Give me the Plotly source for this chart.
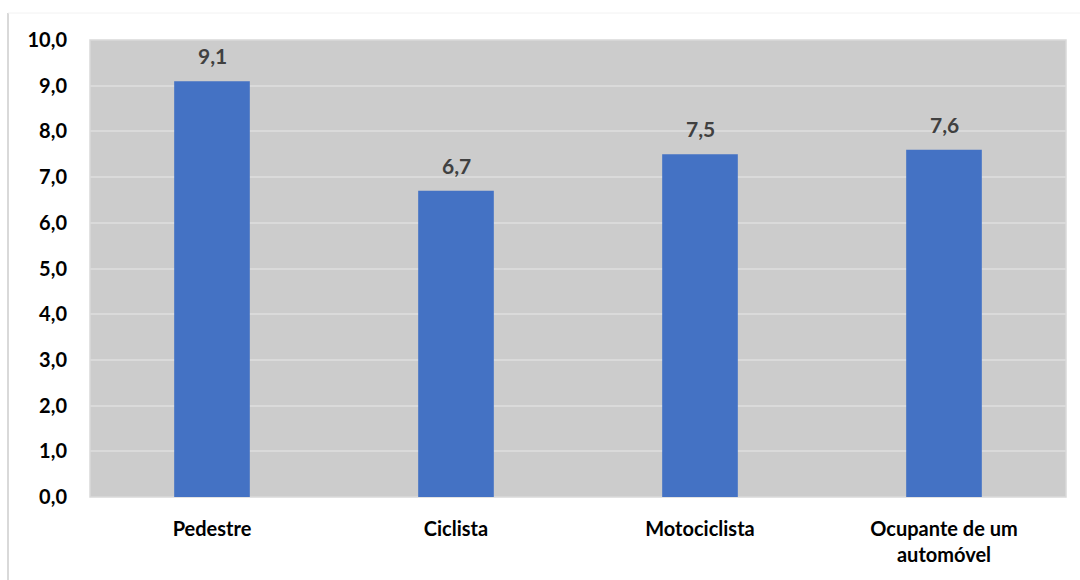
import plotly.graph_objects as go

categories = ["Pedestre", "Ciclista", "Motociclista", "Ocupante de um<br>automóvel"]
values = [9.1, 6.7, 7.5, 7.6]
tick_vals = [0, 1, 2, 3, 4, 5, 6, 7, 8, 9, 10]
tick_text = ["0,0", "1,0", "2,0", "3,0", "4,0", "5,0", "6,0", "7,0", "8,0", "9,0", "10,0"]
value_labels = [f"{v:.1f}".replace(".", ",") for v in values]

FONT = "Lato"

fig = go.Figure()
fig.add_trace(go.Bar(
    x=categories, y=values,
    marker=dict(color="#4472C4", line=dict(width=0)),
    width=0.31,
    hoverinfo="skip",
))

for c, v, t in zip(categories, values, value_labels):
    fig.add_annotation(x=c, y=v, text=f"<b>{t}</b>", showarrow=False,
                       yanchor="bottom", yshift=11,
                       font=dict(family=FONT, size=21, color="#404040"))

# outer chart border (light)
fig.add_shape(type="line", xref="paper", yref="paper",
              x0=(8 - 90) / 976, x1=(8 - 90) / 976,
              y0=1 + (40 - 13) / 457, y1=(497 - 600) / 457,
              line=dict(color="#d9d9d9", width=2), layer="below")
fig.add_shape(type="line", xref="paper", yref="paper",
              x0=(8 - 90) / 976, x1=(1100 - 90) / 976,
              y0=1 + (40 - 13) / 457, y1=1 + (40 - 13) / 457,
              line=dict(color="#f2f2f2", width=1), layer="below")
# plot area border
fig.add_shape(type="rect", xref="paper", yref="paper",
              x0=0, x1=1, y0=0, y1=1,
              line=dict(color="#d9d9d9", width=1.5), layer="below")

fig.update_layout(
    width=1080, height=580,
    margin=dict(l=90, r=14, t=40, b=83),
    paper_bgcolor="white",
    plot_bgcolor="#cccccc",
    showlegend=False,
    bargap=0.69,
    font=dict(family=FONT, size=16, color="#000000"),
    xaxis=dict(
        showgrid=False, zeroline=False, showline=False,
        tickfont=dict(family=FONT, size=20, color="#000000"),
        ticks="", ticklabelstandoff=18,
        tickvals=categories,
        ticktext=[f"<b>{c}</b>" for c in categories],
    ),
    yaxis=dict(
        range=[0, 10],
        tickvals=tick_vals,
        ticktext=[f"<b>{t}</b>" for t in tick_text],
        tickfont=dict(family=FONT, size=20, color="#000000"),
        showgrid=True, gridcolor="#dadada", gridwidth=2,
        zeroline=False, showline=False,
        ticks="", ticklabelstandoff=22,
    ),
)

fig.write_html("out.html")
